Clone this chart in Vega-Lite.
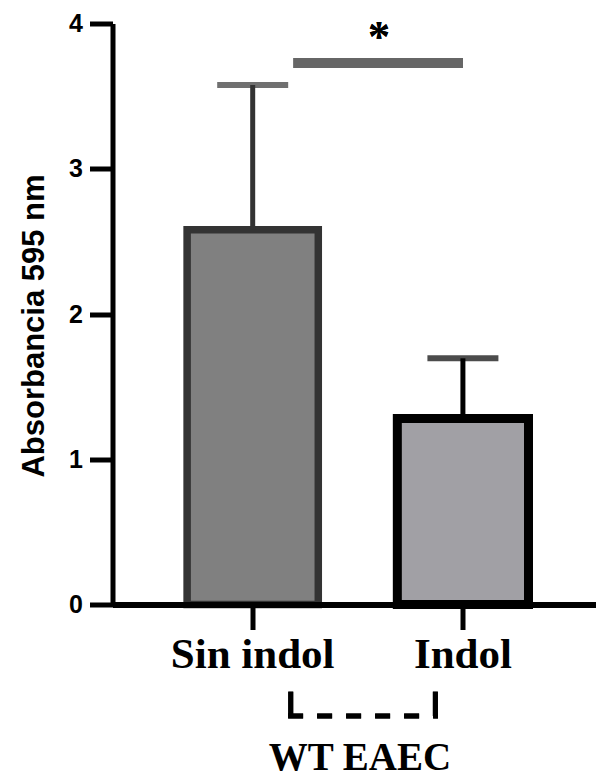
{
  "$schema": "https://vega.github.io/schema/vega-lite/v6.json",
  "width": 483.5,
  "height": 581,
  "autosize": {"type": "none"},
  "padding": {"left": 112.5, "top": 23.5, "right": 0, "bottom": 173.5},
  "background": "white",
  "config": {"view": {"stroke": null}},
  "data": {"values": [
    {"group": "Sin indol", "mean": 2.58, "upper": 3.577},
    {"group": "Indol", "mean": 1.28, "upper": 1.695}
  ]},
  "encoding": {
    "x": {
      "field": "group", "type": "nominal", "sort": ["Sin indol", "Indol"],
      "scale": {"paddingInner": 0.376, "paddingOuter": 0.338, "align": 0.525},
      "axis": {
        "zindex": 1, "labelAngle": 0, "domainColor": "black", "domainWidth": 6,
        "tickColor": "black", "tickWidth": 5, "tickSize": 25,
        "labelFont": "Liberation Serif", "labelFontWeight": "bold", "labelFontSize": 43,
        "labelColor": "black", "labelPadding": 4,
        "title": "WT EAEC", "titleFont": "Liberation Serif", "titleFontWeight": "bold",
        "titleFontSize": 39, "titleColor": "black", "titlePadding": 62, "titleX": 247
      }
    }
  },
  "layer": [
    {
      "mark": {"type": "bar"},
      "encoding": {
        "y": {
          "field": "mean", "type": "quantitative",
          "scale": {"domain": [0, 4], "nice": false, "zero": true},
          "axis": {
            "values": [0, 1, 2, 3, 4], "format": "d", "grid": false, "domainColor": "black", "domainWidth": 5,
            "tickColor": "black", "tickWidth": 5, "tickSize": 23,
            "labelFont": "Liberation Sans", "labelFontWeight": "bold", "labelFontSize": 25,
            "labelColor": "black", "labelPadding": 7,
            "title": "Absorbancia 595 nm", "titleFont": "Liberation Sans", "titleFontWeight": "bold",
            "titleFontSize": 31, "titleColor": "black", "titlePadding": 18, "titleY": 302
          }
        },
        "fill": {"field": "group", "type": "nominal", "scale": {"domain": ["Sin indol", "Indol"], "range": ["#808080", "#a1a0a5"]}, "legend": null},
        "stroke": {"field": "group", "type": "nominal", "scale": {"domain": ["Sin indol", "Indol"], "range": ["#333333", "#000000"]}, "legend": null},
        "strokeWidth": {"field": "group", "type": "nominal", "scale": {"domain": ["Sin indol", "Indol"], "range": [7.5, 9]}, "legend": null}
      }
    },
    {
      "mark": {"type": "rule", "strokeWidth": 5},
      "encoding": {
        "y": {"field": "mean", "type": "quantitative"},
        "y2": {"field": "upper"},
        "stroke": {"field": "group", "type": "nominal", "scale": {"domain": ["Sin indol", "Indol"], "range": ["#333333", "#000000"]}, "legend": null}
      }
    },
    {
      "mark": {"type": "tick", "orient": "horizontal", "size": 71, "thickness": 6},
      "encoding": {
        "y": {"field": "upper", "type": "quantitative"},
        "color": {"field": "group", "type": "nominal", "scale": {"domain": ["Sin indol", "Indol"], "range": ["#333333", "#000000"]}, "legend": null}
      }
    },
    {
      "mark": {"type": "rule", "strokeWidth": 10, "color": "#666666"},
      "encoding": {
        "x": {"datum": "Sin indol", "bandPosition": 0.81},
        "x2": {"datum": "Indol", "bandPosition": 0.5},
        "y": {"datum": 3.728}
      }
    },
    {
      "mark": {"type": "text", "text": "*", "font": "Liberation Serif", "fontWeight": "bold", "fontSize": 44, "baseline": "middle", "align": "center", "color": "black"},
      "encoding": {
        "x": {"datum": "Indol", "bandPosition": -0.14},
        "y": {"datum": 3.9}
      }
    },
    {
      "mark": {"type": "rule", "strokeWidth": 5, "color": "black"},
      "encoding": {
        "x": {"datum": "Sin indol", "bandPosition": 0.79},
        "y": {"datum": -0.6},
        "y2": {"datum": -0.768}
      }
    },
    {
      "mark": {"type": "rule", "strokeWidth": 5, "color": "black"},
      "encoding": {
        "x": {"datum": "Indol", "bandPosition": 0.29},
        "y": {"datum": -0.6},
        "y2": {"datum": -0.768}
      }
    },
    {
      "mark": {"type": "rule", "strokeWidth": 5, "color": "black", "strokeDash": [15, 14]},
      "encoding": {
        "x": {"datum": "Sin indol", "bandPosition": 0.77},
        "x2": {"datum": "Indol", "bandPosition": 0.31},
        "y": {"datum": -0.768}
      }
    }
  ]
}
